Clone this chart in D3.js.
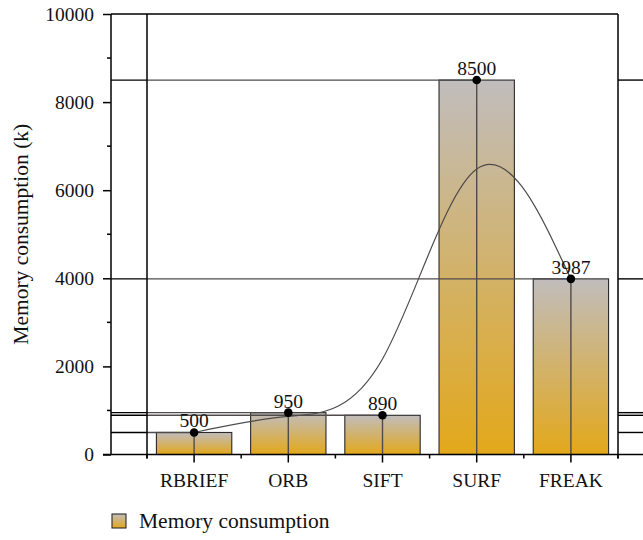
<!DOCTYPE html>
<html><head><meta charset="utf-8">
<script src="https://cdn.jsdelivr.net/npm/d3@7"></script>
<style>body{margin:0;background:#fff}svg{display:block}text{font-family:"Liberation Serif","Times New Roman",serif;fill:#111}</style>
</head><body>
<script>
const categories = ["RBRIEF", "ORB", "SIFT", "SURF", "FREAK"];
const values = [500, 950, 890, 8500, 3987];
const yTicks = [0, 2000, 4000, 6000, 8000, 10000];
const yMinorTicks = [1000, 3000, 5000, 7000, 9000];
const seriesName = "Memory consumption";
const yTitle = "Memory consumption (k)";

(function () {
const W = 643, H = 540;
const axisX = 111, pLeft = 147, pRight = 618, pTop = 14, pBottom = 454.5;
const svg = d3.select("body").append("svg").attr("width", W).attr("height", H);

const x = d3.scaleBand().domain(categories).range([pLeft, pRight]).paddingInner(0.2).paddingOuter(0.1);
const y = d3.scaleLinear().domain([0, 10000]).range([pBottom, pTop]);
const data = categories.map((c, i) => ({c, v: values[i]}));
const cx = d => x(d.c) + x.bandwidth() / 2;

const defs = svg.append("defs");
const g = defs.append("linearGradient").attr("id", "grad").attr("x1", 0).attr("y1", 0).attr("x2", 0).attr("y2", 1);
g.append("stop").attr("offset", "0%").attr("stop-color", "#c1bdbd");
g.append("stop").attr("offset", "100%").attr("stop-color", "#e3a81a");

// bars
svg.append("g").selectAll("rect").data(data).join("rect")
  .attr("x", d => x(d.c)).attr("width", x.bandwidth())
  .attr("y", d => y(d.v)).attr("height", d => y(0) - y(d.v))
  .attr("fill", "url(#grad)").attr("stroke", "#2a2a2a").attr("stroke-width", 1.1);

// gray drop lines
const gray = "#4f4b4b";
svg.append("g").selectAll("line").data(data).join("line")
  .attr("x1", pLeft).attr("x2", d => cx(d)).attr("y1", d => y(d.v)).attr("y2", d => y(d.v))
  .attr("stroke", gray).attr("stroke-width", 1.4);
svg.append("g").selectAll("line").data(data).join("line")
  .attr("x1", d => cx(d)).attr("x2", d => cx(d)).attr("y1", d => y(d.v)).attr("y2", pBottom)
  .attr("stroke", gray).attr("stroke-width", 1.4);

// black segments at left and right regions
svg.append("g").selectAll("line").data(data).join("line")
  .attr("x1", axisX).attr("x2", pLeft).attr("y1", d => y(d.v)).attr("y2", d => y(d.v))
  .attr("stroke", "#000").attr("stroke-width", 1.4);
svg.append("g").selectAll("line").data(data).join("line")
  .attr("x1", pRight).attr("x2", W).attr("y1", d => y(d.v)).attr("y2", d => y(d.v))
  .attr("stroke", "#000").attr("stroke-width", 1.4);

// smooth curve
svg.append("path").datum(data)
  .attr("d", d3.line().x(d => cx(d)).y(d => y(d.v)).curve(d3.curveBasis))
  .attr("fill", "none").attr("stroke", gray).attr("stroke-width", 1.2);

// frame lines
const frame = svg.append("g").attr("stroke", "#000").attr("stroke-width", 1.5);
frame.append("line").attr("x1", axisX).attr("x2", pRight).attr("y1", pTop).attr("y2", pTop);
frame.append("line").attr("x1", pLeft).attr("x2", pLeft).attr("y1", pTop).attr("y2", pBottom + 4);
frame.append("line").attr("x1", pRight).attr("x2", pRight).attr("y1", pTop).attr("y2", pBottom + 4);

// y axis
const yAxis = svg.append("g").attr("transform", `translate(${axisX},0)`)
  .call(d3.axisLeft(y).tickValues(yTicks).tickSize(8).tickPadding(9).tickFormat(d3.format("d")));
yAxis.select(".domain").attr("stroke", "#000").attr("stroke-width", 1.5).attr("d", `M0,${pTop}V${pBottom}`);
yAxis.selectAll(".tick line").attr("stroke", "#000").attr("stroke-width", 1.5);
yAxis.selectAll("text").attr("font-size", 19.5).attr("fill", "#111").attr("font-family", "Liberation Serif");
svg.append("g").selectAll("line").data(yMinorTicks).join("line")
  .attr("x1", axisX - 4).attr("x2", axisX).attr("y1", d => y(d)).attr("y2", d => y(d))
  .attr("stroke", "#000").attr("stroke-width", 1.5);

// x axis
const xAxis = svg.append("g").attr("transform", `translate(0,${pBottom})`)
  .call(d3.axisBottom(x).tickSize(8).tickPadding(11));
xAxis.select(".domain").attr("stroke", "#000").attr("stroke-width", 1.5).attr("d", `M${axisX - 8},0H${W}`);
xAxis.selectAll(".tick line").attr("stroke", "#000").attr("stroke-width", 1.5);
xAxis.selectAll("text").attr("font-size", 19.5).attr("fill", "#111").attr("font-family", "Liberation Serif");
const edges = categories.map(c => x(c) - x.step() * x.paddingInner() / 2).concat([pRight]);
svg.append("g").selectAll("line").data(edges).join("line")
  .attr("x1", d => d).attr("x2", d => d).attr("y1", pBottom).attr("y2", pBottom + 4)
  .attr("stroke", "#000").attr("stroke-width", 1.5);

// points
svg.append("g").selectAll("circle").data(data).join("circle")
  .attr("cx", d => cx(d)).attr("cy", d => y(d.v)).attr("r", 4.3).attr("fill", "#000");

// value labels
svg.append("g").selectAll("text").data(data).join("text")
  .attr("x", d => cx(d)).attr("y", d => y(d.v) - 5).attr("text-anchor", "middle")
  .attr("font-size", 19.5).text(d => d.v);

// y title
svg.append("text").attr("transform", `translate(28,${(pTop + pBottom) / 2}) rotate(-90)`)
  .attr("text-anchor", "middle").attr("font-size", 21.5).text(yTitle);

// legend
svg.append("rect").attr("x", 112).attr("y", 514).attr("width", 14).attr("height", 14)
  .attr("fill", "url(#grad)").attr("stroke", "#2a2a2a").attr("stroke-width", 1.1);
svg.append("text").attr("x", 139).attr("y", 528).attr("font-size", 21.5).text(seriesName);
})();
</script>
</body></html>
